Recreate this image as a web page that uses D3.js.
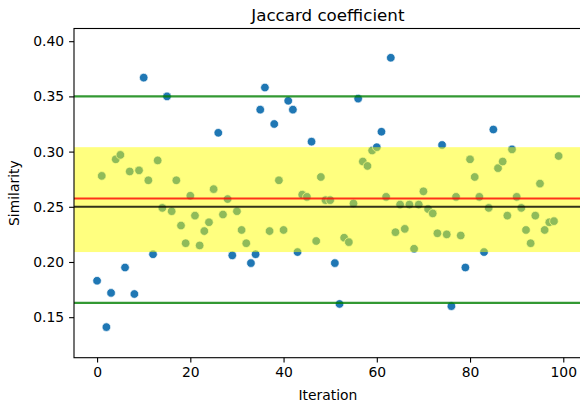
<!DOCTYPE html>
<html>
<head>
<meta charset="utf-8">
<script src="https://cdn.jsdelivr.net/npm/d3@7"></script>
<style>
  body { margin: 0; background: #fff; }
  text { font-family: "DejaVu Sans", sans-serif; fill: #000; }
</style>
</head>
<body>
<svg id="chart" width="580" height="404"></svg>
<script>
// similarity per iteration (iteration = index)
const similarity = [
  0.183, 0.278, 0.141, 0.172, 0.293, 0.297, 0.195, 0.282, 0.171, 0.283,
  0.367, 0.274, 0.207, 0.292, 0.249, 0.350, 0.246, 0.274, 0.233, 0.217,
  0.260, 0.242, 0.215, 0.228, 0.236, 0.266, 0.317, 0.243, 0.257, 0.206,
  0.246, 0.229, 0.217, 0.199, 0.207, 0.338, 0.358, 0.228, 0.325, 0.274,
  0.229, 0.346, 0.338, 0.209, 0.261, 0.259, 0.309, 0.219, 0.277, 0.256,
  0.256, 0.199, 0.162, 0.222, 0.218, 0.253, 0.348, 0.291, 0.287, 0.301,
  0.304, 0.318, 0.259, 0.385, 0.227, 0.252, 0.230, 0.252, 0.212, 0.252,
  0.264, 0.248, 0.244, 0.226, 0.306, 0.225, 0.160, 0.259, 0.224, 0.195,
  0.293, 0.277, 0.259, 0.209, 0.249, 0.320, 0.285, 0.291, 0.242, 0.302,
  0.259, 0.249, 0.229, 0.217, 0.242, 0.271, 0.229, 0.236, 0.237, 0.296
]
const iterations = similarity.map((d, i) => i)

const band = [0.209, 0.304]        // yellow span
const outerLines = [0.350, 0.163]  // green lines
const meanLine = [0.2575]          // red
const baseLine = [0.250]           // black

const xTicks = [0, 20, 40, 60, 80, 100]
const yTicks = [0.15, 0.20, 0.25, 0.30, 0.35, 0.40]

const margin = {left: 74, top: 28.5, right: 0, bottom: 46.3}
const W = 581.7 - margin.left
const H = 357.7 - margin.top

const svg = d3.select("#chart")
const g = svg.append("g").attr("transform", `translate(${margin.left},${margin.top})`)

const x = d3.scaleLinear().domain([-4.95, 103.95]).range([0, W])
const y = d3.scaleLinear().domain([0.1133, 0.4115]).range([H, 0])

// points first, band goes over them (that's what turns them green)
g.append("g").selectAll("circle").data(similarity).enter().append("circle")
  .attr("cx", (d, i) => x(iterations[i]))
  .attr("cy", d => y(d))
  .attr("r", 4.3)
  .attr("fill", "#1f77b4")
  .attr("stroke", "#fff")
  .attr("stroke-width", 0.7)

g.append("rect")
  .attr("x", 0).attr("width", W)
  .attr("y", y(band[1])).attr("height", y(band[0]) - y(band[1]))
  .attr("fill", "yellow").attr("fill-opacity", 0.5)

function hline(vals, color) {
  g.append("g").selectAll("line").data(vals).enter().append("line")
    .attr("x1", 0).attr("x2", W)
    .attr("y1", d => y(d)).attr("y2", d => y(d))
    .attr("stroke", color).attr("stroke-opacity", 0.8).attr("stroke-width", 2.1)
}
hline(outerLines, "#008000")
hline(meanLine, "#ff0000")
hline(baseLine, "#000")

// axes
const xAxis = d3.axisBottom(x).tickValues(xTicks).tickSize(4.9).tickPadding(4.9).tickFormat(d3.format("d"))
const yAxis = d3.axisLeft(y).tickValues(yTicks).tickSize(4.9).tickPadding(4.9).tickFormat(d3.format(".2f"))

const gx = g.append("g").attr("transform", `translate(0,${H})`).call(xAxis)
const gy = g.append("g").call(yAxis)
;[gx, gy].forEach(a => {
  a.select(".domain").remove()
  a.selectAll("line").attr("stroke", "#000").attr("stroke-width", 1.1)
  a.selectAll("text").style("font-size", "13.9px").style("font-family", "DejaVu Sans")
})

// spines
g.append("rect").attr("x", 0).attr("y", 0).attr("width", W).attr("height", H)
  .attr("fill", "none").attr("stroke", "#000").attr("stroke-width", 1.1)

svg.append("text").attr("x", margin.left + W / 2).attr("y", 20.5)
  .attr("text-anchor", "middle").style("font-size", "16.7px").text("Jaccard coefficient")

svg.append("text").attr("x", margin.left + W / 2).attr("y", 400)
  .attr("text-anchor", "middle").style("font-size", "13.9px").text("Iteration")

svg.append("text").attr("transform", `translate(19,${margin.top + H / 2}) rotate(-90)`)
  .attr("text-anchor", "middle").style("font-size", "13.9px").text("Similarity")
</script>
</body>
</html>
